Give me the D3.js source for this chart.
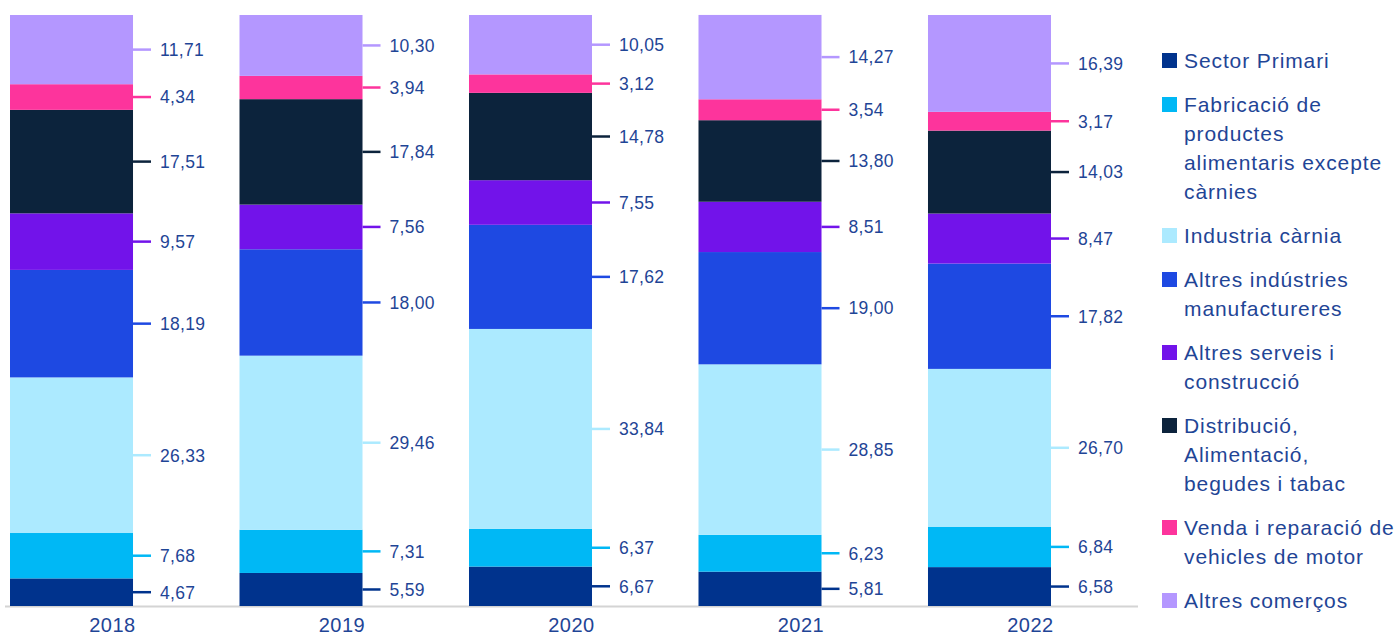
<!DOCTYPE html>
<html>
<head>
<meta charset="utf-8">
<script src="https://cdn.jsdelivr.net/npm/d3@7"></script>
<style>
  html, body { margin: 0; padding: 0; background: #fff; }
  svg { display: block; font-family: "Liberation Sans", Arial, sans-serif; }
</style>
</head>
<body>
<svg id="chart" width="1399" height="635"></svg>
<script>
// Years along the x axis
const years = ["2018", "2019", "2020", "2021", "2022"];

// Series, from the bottom of each stack to the top
const seriesNames = [
  "Sector Primari",
  "Fabricació de productes alimentaris excepte càrnies",
  "Industria càrnia",
  "Altres indústries manufactureres",
  "Altres serveis i construcció",
  "Distribució, Alimentació, begudes i tabac",
  "Venda i reparació de vehicles de motor",
  "Altres comerços"
];

// Legend lines for each series
const legendLines = [
  ["Sector Primari"],
  ["Fabricació de", "productes", "alimentaris excepte", "càrnies"],
  ["Industria càrnia"],
  ["Altres indústries", "manufactureres"],
  ["Altres serveis i", "construcció"],
  ["Distribució,", "Alimentació,", "begudes i tabac"],
  ["Venda i reparació de", "vehicles de motor"],
  ["Altres comerços"]
];

const seriesColors = ["#00338D", "#00B8F5", "#ACEAFF", "#1E49E2", "#7213EA", "#0C233C", "#FD349C", "#B497FF"];

// Share (%) per series, one value per year
const sectorPrimari   = [4.67, 5.59, 6.67, 5.81, 6.58];
const fabricacio      = [7.68, 7.31, 6.37, 6.23, 6.84];
const industriaCarnia = [26.33, 29.46, 33.84, 28.85, 26.70];
const altresIndustries= [18.19, 18.00, 17.62, 19.00, 17.82];
const altresServeis   = [9.57, 7.56, 7.55, 8.51, 8.47];
const distribucio     = [17.51, 17.84, 14.78, 13.80, 14.03];
const vendaReparacio  = [4.34, 3.94, 3.12, 3.54, 3.17];
const altresComercos  = [11.71, 10.30, 10.05, 14.27, 16.39];

const seriesValues = [sectorPrimari, fabricacio, industriaCarnia, altresIndustries,
                      altresServeis, distribucio, vendaReparacio, altresComercos];

const rows = years.map((y, i) => {
  const r = { year: y };
  seriesNames.forEach((s, k) => { r[s] = seriesValues[k][i]; });
  return r;
});

const svg = d3.select("#chart");
const textColor = "#1F4596";

const x = d3.scaleBand().domain(years).range([10, 1051]).paddingInner(0.464).paddingOuter(0);
const barW = x.bandwidth();
const y = d3.scaleLinear().domain([0, 100]).range([606, 15]);

const stack = d3.stack().keys(seriesNames);
const layers = stack(rows);

const fmt = v => d3.format(".2f")(v).replace(".", ",");

// Baseline
svg.append("line")
  .attr("x1", 5).attr("x2", 1138)
  .attr("y1", 606.5).attr("y2", 606.5)
  .attr("stroke", "#d4d4d4").attr("stroke-width", 2);

const g = svg.append("g");

layers.forEach((layer, k) => {
  const grp = g.append("g");
  grp.selectAll("rect").data(layer).join("rect")
    .attr("x", d => x(d.data.year))
    .attr("y", d => y(d[1]))
    .attr("width", barW)
    .attr("height", d => y(d[0]) - y(d[1]))
    .attr("fill", seriesColors[k]);

  // leader line and value label to the right of each segment
  grp.selectAll("line").data(layer).join("line")
    .attr("x1", d => x(d.data.year) + barW)
    .attr("x2", d => x(d.data.year) + barW + 18)
    .attr("y1", d => y((d[0] + d[1]) / 2))
    .attr("y2", d => y((d[0] + d[1]) / 2))
    .attr("stroke", seriesColors[k])
    .attr("stroke-width", 2.5);

  grp.selectAll("text").data(layer).join("text")
    .attr("x", d => x(d.data.year) + barW + 27)
    .attr("y", d => y((d[0] + d[1]) / 2))
    .attr("dy", "0.36em")
    .attr("font-size", 17.5)
    .attr("letter-spacing", 0.3)
    .attr("fill", textColor)
    .text(d => fmt(d[1] - d[0]));
});

// Year labels, centred over the bar plus its value labels
svg.append("g").selectAll("text").data(years).join("text")
  .attr("x", d => x(d) + barW / 2 + 41)
  .attr("y", 632)
  .attr("text-anchor", "middle")
  .attr("font-size", 20)
  .attr("letter-spacing", 0.5)
  .attr("fill", textColor)
  .text(d => d);

// Legend
const legend = svg.append("g");
const lineH = 29;
const itemGap = 44;
let cy = 68;
legendLines.forEach((lines, k) => {
  const item = legend.append("g");
  item.append("rect")
    .attr("x", 1162).attr("y", cy - 15)
    .attr("width", 15).attr("height", 15)
    .attr("fill", seriesColors[k]);
  lines.forEach((t, j) => {
    item.append("text")
      .attr("x", 1184).attr("y", cy + j * lineH)
      .attr("font-size", 21)
      .attr("letter-spacing", 0.9)
      .attr("fill", textColor)
      .text(t);
  });
  cy += (lines.length - 1) * lineH + itemGap;
});
</script>
</body>
</html>
